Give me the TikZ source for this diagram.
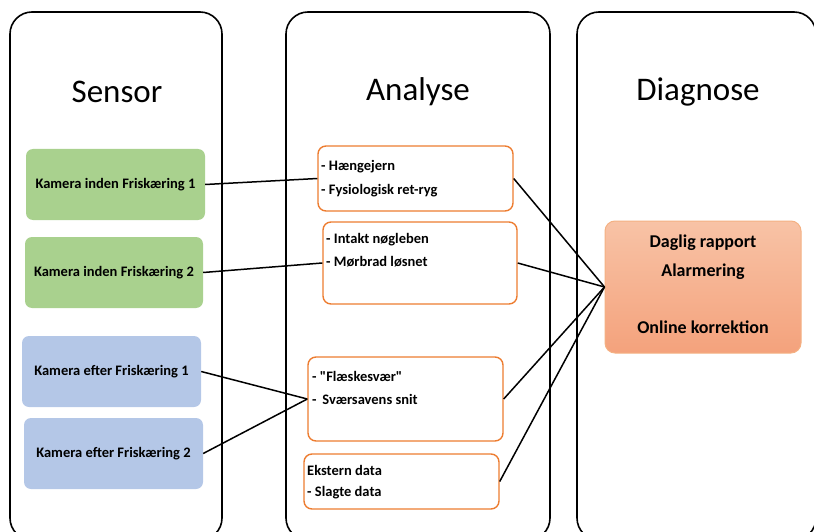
\documentclass[tikz,border=0pt]{standalone}
\usepackage{fontspec}
\setmainfont{Carlito}[Ligatures=TeXOff]
\definecolor{sensorgreen}{HTML}{A9D18E}
\definecolor{sensorblue}{HTML}{B4C7E7}
\definecolor{boxorange}{HTML}{ED7D31}
\definecolor{diagtop}{HTML}{F8C3A6}
\definecolor{diagbot}{HTML}{F4A27C}
\definecolor{diagedge}{HTML}{F4B183}
\begin{document}
\begin{tikzpicture}[x=1pt,y=-1pt,
  column/.style={draw=black, line width=1.6pt, rounded corners=22pt},
  heading/.style={font=\fontsize{33}{39}\selectfont, inner sep=0pt},
  sensorbox/.style={rounded corners=7pt, inner sep=0pt, minimum width=179pt,
    minimum height=71pt, font=\bfseries\fontsize{14.5}{17}\selectfont},
  anabox/.style={draw=boxorange, line width=1.4pt, rounded corners=8pt, fill=white,
    inner sep=0pt, minimum width=195pt},
  anatext/.style={anchor=west, inner sep=0pt, font=\bfseries\fontsize{14.5}{17}\selectfont},
  diagtext/.style={inner sep=0pt, font=\bfseries\fontsize{18}{21}\selectfont},
  link/.style={draw=black, line width=1.5pt}]
\useasboundingbox (0,0) rectangle (814,532);
\begin{scope}
\clip (0,0) rectangle (814,532);
% three column frames
\draw[column] (10,12) rectangle (222,540);
\draw[column] (286,12) rectangle (550,540);
\draw[column] (577,12) rectangle (816,540);
\end{scope}

% column headings
\node[heading] (hsensor) at (117,92) {Sensor};
\node[heading] (hanalyse) at (418,92) {Analyse};
\node[heading] (hdiag) at (698,92) {Diagnose};

% sensor column
\node[sensorbox, fill=sensorgreen] (g1) at (115.5,184.5) {Kamera inden Friskæring 1};
\node[sensorbox, fill=sensorgreen, minimum width=178pt] (g2) at (114,272.5) {Kamera inden Friskæring 2};
\node[sensorbox, fill=sensorblue] (b1) at (111.5,371.5) {Kamera efter Friskæring 1};
\node[sensorbox, fill=sensorblue] (b2) at (113.5,453.5) {Kamera efter Friskæring 2};

% analysis column
\node[anabox, minimum height=65pt] (a1) at (415.5,178.5) {};
\node[anabox, minimum width=194pt, minimum height=82pt] (a2) at (420,263) {};
\node[anabox, minimum height=84pt] (a3) at (405.5,399) {};
\node[anabox, minimum height=55pt] (a4) at (401.5,481.5) {};

\node[anatext] (a1t1) at (321,167) {- Hængejern};
\node[anatext] (a1t2) at (321,191) {- Fysiologisk ret-ryg};
\node[anatext] (a2t1) at (326,240) {- Intakt nøgleben};
\node[anatext] (a2t2) at (326,262) {- Mørbrad løsnet};
\node[anatext] (a3t1) at (312,376) {- "Flæskesvær"};
\node[anatext] (a3t2) at (312,399) {-\hspace{2.5pt} Sværsavens snit};
\node[anatext] (a4t1) at (307,470) {Ekstern data};
\node[anatext] (a4t2) at (307,493) {- Slagte data};

% diagnosis column
\node[draw=diagedge, line width=1pt, rounded corners=10pt, top color=diagtop,
  bottom color=diagbot, minimum width=196pt, minimum height=132pt, inner sep=0pt]
  (diag) at (703,287) {};
\node[diagtext] (d1) at (703,243) {Daglig rapport};
\node[diagtext] (d2) at (703,272) {Alarmering};
\node[diagtext] (d3) at (703,327) {Online korrektion};

% connectors
\draw[link] (g1.east) -- (a1.west);
\draw[link] (g2.east) -- (a2.west);
\draw[link] (b1.east) -- (a3.west);
\draw[link] (b2.east) -- (a3.west);
\draw[link] (a1.east) -- (diag.west);
\draw[link] (a2.east) -- (diag.west);
\draw[link] (a3.east) -- (diag.west);
\draw[link] (a4.east) -- (diag.west);
\end{tikzpicture}
\end{document}
